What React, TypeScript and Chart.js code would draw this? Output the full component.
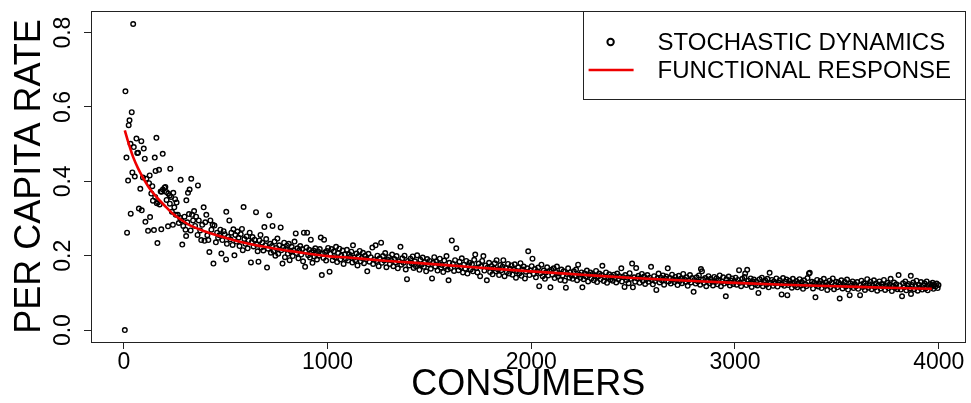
import { useEffect, useRef } from 'react';
import { Chart, registerables } from 'chart.js';

Chart.register(...registerables);

const FONT = '"Liberation Sans", Arial, Helvetica, sans-serif';

const X_TICKS = [0, 1000, 2000, 3000, 4000];
const X_TICK_LABELS = ['0', '1000', '2000', '3000', '4000'];
const Y_TICKS = [0, 0.2, 0.4, 0.6, 0.8];
const Y_TICK_LABELS = ['0.0', '0.2', '0.4', '0.6', '0.8'];

const X_TITLE = 'CONSUMERS';
const Y_TITLE = 'PER CAPITA RATE';
const SERIES_POINTS = 'STOCHASTIC DYNAMICS';
const SERIES_CURVE = 'FUNCTIONAL RESPONSE';

// functional response curve
const CURVE_CONSUMERS = [5, 25, 46, 70, 94, 125, 160, 200, 241, 280, 323, 400, 486, 560, 649, 730, 812, 900, 1000, 1100, 1250, 1400, 1600, 1790, 2000, 2250, 2500, 2800, 3000, 3240, 3500, 3750, 3966];
const CURVE_RATE = [0.537, 0.5, 0.465, 0.435, 0.41, 0.382, 0.358, 0.335, 0.313, 0.297, 0.282, 0.265, 0.25, 0.239, 0.228, 0.22, 0.213, 0.206, 0.199, 0.195, 0.188, 0.182, 0.174, 0.166, 0.158, 0.149, 0.14, 0.132, 0.127, 0.122, 0.118, 0.114, 0.111];

// stochastic dynamics, [consumers, per capita rate]
const STOCH_EARLY: [number, number][] = [
  [5, 0.0], [8, 0.642], [13, 0.464], [16, 0.262], [21, 0.402], [24, 0.551], [28, 0.564], [33, 0.501], [34, 0.313], [39, 0.586],
  [42, 0.424], [46, 0.823], [49, 0.492], [54, 0.413], [62, 0.515], [66, 0.476], [70, 0.477], [74, 0.327], [81, 0.38], [86, 0.508],
  [88, 0.322], [94, 0.41], [98, 0.488], [103, 0.461], [106, 0.291], [111, 0.407], [119, 0.267], [124, 0.395], [127, 0.416], [129, 0.304],
  [135, 0.367], [140, 0.387], [143, 0.348], [148, 0.269], [152, 0.464], [154, 0.358], [156, 0.428], [160, 0.517], [162, 0.341], [165, 0.234],
  [168, 0.344], [173, 0.431], [176, 0.338], [181, 0.373], [184, 0.271], [186, 0.372], [191, 0.474], [192, 0.378], [200, 0.383], [204, 0.385],
  [209, 0.371], [210, 0.35], [217, 0.279], [218, 0.367], [225, 0.362], [226, 0.34], [228, 0.434], [232, 0.358], [236, 0.318], [241, 0.283],
  [243, 0.369], [248, 0.33], [252, 0.352], [255, 0.31], [259, 0.343], [265, 0.31], [270, 0.288], [276, 0.302], [279, 0.404], [283, 0.295],
  [287, 0.23], [292, 0.28], [298, 0.305], [303, 0.27], [306, 0.253], [307, 0.349], [312, 0.29], [315, 0.369], [320, 0.312], [323, 0.378],
  [328, 0.268], [331, 0.407], [335, 0.31], [340, 0.295], [345, 0.32], [350, 0.28], [355, 0.305], [362, 0.256], [364, 0.389], [368, 0.295],
  [375, 0.268], [380, 0.242], [385, 0.283], [392, 0.33], [396, 0.24], [400, 0.29], [405, 0.31], [410, 0.255], [415, 0.242], [420, 0.21],
  [425, 0.295], [430, 0.27], [436, 0.283], [440, 0.179],
];

const STOCH_MID: [number, number][] = [
  [445, 0.281], [452, 0.236], [458, 0.262], [463, 0.248], [469, 0.255], [474, 0.27], [479, 0.206], [484, 0.242], [490, 0.266], [495, 0.258],
  [502, 0.19], [503, 0.318], [506, 0.232], [512, 0.251], [518, 0.295], [523, 0.244], [528, 0.262], [534, 0.229], [538, 0.271], [543, 0.201],
  [548, 0.256], [553, 0.238], [558, 0.265], [563, 0.248], [568, 0.226], [574, 0.258], [580, 0.272], [584, 0.215], [588, 0.331], [592, 0.245],
  [597, 0.232], [603, 0.252], [608, 0.22], [612, 0.241], [618, 0.262], [624, 0.182], [628, 0.236], [632, 0.25], [637, 0.225], [642, 0.243],
  [649, 0.317], [653, 0.23], [657, 0.212], [661, 0.184], [666, 0.241], [671, 0.256], [675, 0.222], [680, 0.235], [685, 0.214], [690, 0.277],
  [695, 0.228], [699, 0.245], [703, 0.168], [708, 0.219], [714, 0.309], [718, 0.232], [722, 0.208], [727, 0.226], [730, 0.28], [735, 0.213],
  [740, 0.238], [744, 0.2], [749, 0.221], [754, 0.246], [758, 0.205], [763, 0.228], [770, 0.276], [773, 0.215], [779, 0.179], [782, 0.222],
  [787, 0.235], [791, 0.196], [796, 0.218], [801, 0.227], [805, 0.205], [810, 0.232], [814, 0.188], [820, 0.212], [824, 0.224], [829, 0.199],
  [833, 0.215], [838, 0.238], [844, 0.26], [847, 0.207], [852, 0.22], [857, 0.193], [861, 0.214], [866, 0.226], [871, 0.203], [876, 0.218],
  [880, 0.185], [884, 0.262], [890, 0.17], [893, 0.211], [897, 0.222], [900, 0.262], [905, 0.201], [910, 0.216], [914, 0.195], [918, 0.243],
  [922, 0.209], [926, 0.181], [931, 0.214], [935, 0.198], [940, 0.22], [944, 0.205], [948, 0.19], [953, 0.212], [958, 0.2], [962, 0.218],
  [967, 0.249], [972, 0.148], [976, 0.205], [980, 0.194], [983, 0.243], [988, 0.209], [993, 0.187], [997, 0.213],
];

const STOCH_LATE_A: [number, number][] = [
  [1003, 0.221], [1010, 0.157], [1014, 0.205], [1020, 0.218], [1025, 0.188], [1031, 0.212], [1036, 0.196], [1042, 0.224], [1047, 0.183], [1052, 0.207],
  [1058, 0.219], [1063, 0.19], [1068, 0.2], [1074, 0.214], [1079, 0.178], [1084, 0.203], [1090, 0.192], [1095, 0.216],
  [1101, 0.187], [1106, 0.204], [1112, 0.197], [1117, 0.211], [1122, 0.182], [1125, 0.228], [1131, 0.195], [1136, 0.188], [1142, 0.206], [1147, 0.174],
  [1152, 0.199], [1158, 0.213], [1163, 0.185], [1168, 0.194], [1174, 0.208], [1179, 0.18], [1184, 0.2], [1190, 0.191], [1195, 0.158],
  [1201, 0.205], [1206, 0.184], [1212, 0.196], [1220, 0.222], [1224, 0.178], [1229, 0.19], [1236, 0.228], [1240, 0.186], [1245, 0.2], [1251, 0.172],
  [1256, 0.193], [1263, 0.235], [1267, 0.181], [1272, 0.199], [1278, 0.187], [1283, 0.207], [1289, 0.169], [1294, 0.19],
  [1301, 0.196], [1306, 0.178], [1312, 0.188], [1317, 0.203], [1323, 0.172], [1328, 0.191], [1334, 0.182], [1339, 0.199], [1345, 0.166], [1350, 0.185],
  [1358, 0.224], [1362, 0.176], [1367, 0.193], [1373, 0.181], [1378, 0.2], [1384, 0.163], [1390, 0.137], [1395, 0.186],
  [1401, 0.174], [1407, 0.192], [1412, 0.18], [1418, 0.198], [1423, 0.167], [1429, 0.185], [1434, 0.172], [1440, 0.201], [1445, 0.178], [1451, 0.162],
  [1456, 0.189], [1462, 0.176], [1467, 0.195], [1473, 0.17], [1478, 0.183], [1484, 0.158], [1489, 0.191], [1495, 0.177],
  [1501, 0.186], [1507, 0.165], [1513, 0.139], [1518, 0.181], [1524, 0.196], [1529, 0.171], [1535, 0.184], [1540, 0.16], [1546, 0.178], [1551, 0.192],
  [1557, 0.168], [1562, 0.175], [1568, 0.156], [1573, 0.187], [1579, 0.17], [1584, 0.199], [1590, 0.163], [1594, 0.134], [1598, 0.181],
  [1604, 0.166], [1610, 0.241], [1615, 0.178], [1621, 0.159], [1626, 0.188], [1632, 0.22], [1637, 0.172], [1643, 0.161], [1648, 0.184], [1654, 0.169],
  [1659, 0.193], [1665, 0.155], [1670, 0.176], [1676, 0.165], [1681, 0.186], [1687, 0.152], [1692, 0.174], [1697, 0.181],
  [1703, 0.163], [1709, 0.177], [1714, 0.158], [1720, 0.189], [1725, 0.203], [1731, 0.167], [1736, 0.155], [1742, 0.179], [1749, 0.145], [1753, 0.172],
  [1759, 0.186], [1765, 0.199], [1770, 0.16], [1776, 0.174], [1782, 0.134], [1787, 0.169], [1793, 0.181], [1798, 0.156],
  [1804, 0.172], [1810, 0.15], [1815, 0.166], [1821, 0.18], [1826, 0.158], [1830, 0.188], [1837, 0.163], [1842, 0.148], [1848, 0.175], [1853, 0.161],
  [1859, 0.17], [1863, 0.188], [1869, 0.145], [1875, 0.167], [1880, 0.156], [1886, 0.178], [1891, 0.152], [1897, 0.165],
  [1903, 0.174], [1908, 0.149], [1914, 0.162], [1919, 0.177], [1925, 0.141], [1930, 0.158], [1936, 0.169], [1941, 0.152], [1947, 0.18], [1952, 0.146],
  [1958, 0.163], [1963, 0.171], [1969, 0.139], [1974, 0.157], [1980, 0.166], [1985, 0.212], [1991, 0.148], [1996, 0.16],
];

const STOCH_LATE_B: [number, number][] = [
  [2002, 0.172], [2006, 0.192], [2012, 0.151], [2018, 0.164], [2023, 0.142], [2029, 0.158], [2034, 0.168], [2039, 0.118], [2045, 0.153], [2050, 0.176],
  [2056, 0.145], [2061, 0.16], [2067, 0.138], [2072, 0.155], [2078, 0.169], [2083, 0.147], [2089, 0.158], [2094, 0.115], [2099, 0.162],
  [2104, 0.149], [2110, 0.166], [2115, 0.14], [2121, 0.156], [2126, 0.171], [2132, 0.144], [2137, 0.152], [2143, 0.135], [2148, 0.163], [2154, 0.147],
  [2159, 0.158], [2165, 0.133], [2170, 0.114], [2176, 0.151], [2181, 0.166], [2187, 0.141], [2192, 0.155], [2198, 0.147],
  [2203, 0.138], [2209, 0.158], [2214, 0.146], [2220, 0.163], [2225, 0.134], [2230, 0.176], [2236, 0.149], [2241, 0.141], [2247, 0.155], [2251, 0.115],
  [2257, 0.137], [2262, 0.152], [2268, 0.144], [2273, 0.16], [2279, 0.131], [2284, 0.148], [2290, 0.155], [2295, 0.139],
  [2301, 0.151], [2307, 0.134], [2312, 0.146], [2318, 0.159], [2323, 0.129], [2329, 0.144], [2334, 0.152], [2340, 0.137], [2345, 0.148], [2349, 0.173],
  [2356, 0.132], [2361, 0.143], [2367, 0.155], [2372, 0.127], [2378, 0.141], [2383, 0.15], [2389, 0.136], [2394, 0.145],
  [2400, 0.133], [2406, 0.149], [2411, 0.14], [2417, 0.128], [2422, 0.152], [2428, 0.137], [2433, 0.145], [2442, 0.166], [2445, 0.131], [2450, 0.143],
  [2458, 0.116], [2461, 0.148], [2467, 0.135], [2472, 0.141], [2478, 0.126], [2483, 0.153], [2489, 0.138], [2495, 0.179], [2499, 0.115],
  [2505, 0.142], [2510, 0.13], [2515, 0.167], [2521, 0.139], [2526, 0.146], [2532, 0.127], [2537, 0.14], [2543, 0.151], [2548, 0.133], [2554, 0.144],
  [2559, 0.124], [2565, 0.137], [2570, 0.148], [2576, 0.13], [2581, 0.141], [2588, 0.17], [2592, 0.135], [2597, 0.123],
  [2603, 0.145], [2608, 0.132], [2614, 0.108], [2619, 0.139], [2625, 0.152], [2630, 0.128], [2636, 0.141], [2641, 0.134], [2647, 0.147], [2652, 0.122],
  [2658, 0.138], [2663, 0.144], [2670, 0.166], [2674, 0.131], [2680, 0.14], [2685, 0.125], [2691, 0.149], [2696, 0.136],
  [2702, 0.129], [2707, 0.143], [2713, 0.135], [2718, 0.121], [2724, 0.146], [2729, 0.132], [2735, 0.139], [2740, 0.126], [2746, 0.151], [2751, 0.137],
  [2757, 0.13], [2762, 0.142], [2768, 0.119], [2773, 0.134], [2779, 0.148], [2784, 0.128], [2790, 0.14], [2797, 0.103],
  [2801, 0.135], [2807, 0.125], [2812, 0.142], [2818, 0.131], [2823, 0.147], [2829, 0.122], [2833, 0.164], [2838, 0.158], [2843, 0.136], [2848, 0.127],
  [2854, 0.14], [2859, 0.118], [2865, 0.133], [2870, 0.145], [2876, 0.126], [2881, 0.138], [2887, 0.131], [2892, 0.12], [2898, 0.143],
  [2903, 0.129], [2909, 0.139], [2914, 0.123], [2920, 0.134], [2925, 0.147], [2931, 0.118], [2936, 0.131], [2942, 0.142], [2947, 0.125], [2955, 0.091],
  [2958, 0.137], [2964, 0.128], [2969, 0.144], [2975, 0.12], [2980, 0.133], [2986, 0.139], [2991, 0.124], [2997, 0.13],
];

const STOCH_LATE_C: [number, number][] = [
  [3003, 0.141], [3008, 0.122], [3014, 0.135], [3020, 0.161], [3024, 0.127], [3030, 0.118], [3036, 0.138], [3041, 0.129], [3047, 0.143], [3050, 0.152],
  [3056, 0.121], [3060, 0.162], [3066, 0.133], [3071, 0.125], [3077, 0.139], [3082, 0.116], [3088, 0.13], [3093, 0.136], [3099, 0.123],
  [3104, 0.131], [3110, 0.12], [3115, 0.1], [3121, 0.137], [3126, 0.126], [3132, 0.141], [3137, 0.118], [3143, 0.129], [3148, 0.134], [3154, 0.122],
  [3159, 0.138], [3165, 0.115], [3170, 0.154], [3176, 0.127], [3181, 0.135], [3187, 0.119], [3192, 0.131], [3198, 0.125],
  [3203, 0.139], [3209, 0.117], [3214, 0.128], [3220, 0.134], [3229, 0.096], [3231, 0.123], [3236, 0.14], [3242, 0.119], [3247, 0.13], [3253, 0.136],
  [3257, 0.094], [3262, 0.121], [3268, 0.133], [3273, 0.125], [3279, 0.114], [3284, 0.138], [3290, 0.127], [3295, 0.119],
  [3301, 0.132], [3306, 0.115], [3312, 0.126], [3317, 0.137], [3323, 0.12], [3328, 0.129], [3334, 0.111], [3339, 0.134], [3345, 0.124], [3350, 0.118],
  [3356, 0.14], [3363, 0.152], [3367, 0.154], [3372, 0.122], [3378, 0.13], [3383, 0.112], [3389, 0.127], [3395, 0.088], [3398, 0.121],
  [3403, 0.135], [3409, 0.117], [3414, 0.126], [3420, 0.132], [3425, 0.113], [3431, 0.124], [3436, 0.138], [3442, 0.119], [3447, 0.128], [3453, 0.108],
  [3458, 0.122], [3464, 0.133], [3469, 0.116], [3475, 0.127], [3480, 0.139], [3486, 0.11], [3491, 0.121], [3497, 0.13],
  [3502, 0.115], [3508, 0.128], [3514, 0.085], [3517, 0.123], [3522, 0.134], [3528, 0.112], [3533, 0.121], [3539, 0.129], [3544, 0.117], [3550, 0.136],
  [3555, 0.109], [3563, 0.094], [3566, 0.126], [3571, 0.119], [3577, 0.131], [3582, 0.113], [3588, 0.124], [3594, 0.118],
  [3600, 0.129], [3605, 0.111], [3614, 0.094], [3616, 0.122], [3621, 0.133], [3627, 0.116], [3632, 0.126], [3638, 0.108], [3643, 0.12], [3649, 0.137],
  [3654, 0.114], [3660, 0.123], [3665, 0.13], [3671, 0.11], [3676, 0.119], [3682, 0.134], [3687, 0.115], [3693, 0.125], [3698, 0.106],
  [3704, 0.121], [3709, 0.131], [3715, 0.112], [3720, 0.124], [3726, 0.117], [3731, 0.135], [3737, 0.108], [3742, 0.12], [3748, 0.127], [3753, 0.113],
  [3759, 0.122], [3764, 0.138], [3770, 0.105], [3775, 0.119], [3781, 0.128], [3786, 0.114], [3792, 0.123], [3797, 0.11],
  [3803, 0.148], [3808, 0.12], [3814, 0.109], [3820, 0.091], [3825, 0.126], [3830, 0.115], [3836, 0.131], [3841, 0.107], [3847, 0.119], [3852, 0.124],
  [3858, 0.112], [3863, 0.146], [3864, 0.097], [3869, 0.121], [3875, 0.128], [3880, 0.11], [3886, 0.118], [3891, 0.133], [3897, 0.106],
  [3902, 0.122], [3908, 0.114], [3913, 0.129], [3919, 0.109], [3924, 0.12], [3930, 0.126], [3935, 0.112], [3941, 0.131], [3946, 0.107], [3952, 0.118],
  [3957, 0.124], [3962, 0.115], [3966, 0.12], [3970, 0.127], [3974, 0.111], [3978, 0.122], [3984, 0.117], [3990, 0.125], [3995, 0.113], [3999, 0.121],
];

const framePlugin = {
  id: 'rFrame',
  afterDraw(chart: any) {
    const { ctx, chartArea, scales } = chart;
    const { left, top, right, bottom } = chartArea;
    ctx.save();
    // plot box
    ctx.strokeStyle = '#222';
    ctx.lineWidth = 1;
    ctx.strokeRect(Math.round(left) + 0.5, Math.round(top) + 0.5, Math.round(right - left) - 1, Math.round(bottom - top));
    // rotated y tick labels
    ctx.fillStyle = '#000';
    ctx.font = `23px ${FONT}`;
    ctx.textAlign = 'center';
    ctx.textBaseline = 'middle';
    Y_TICKS.forEach((v, i) => {
      const py = scales.y.getPixelForValue(v);
      ctx.save();
      ctx.translate(left - 27, py);
      ctx.rotate(-Math.PI / 2);
      ctx.fillText(Y_TICK_LABELS[i], 0, 0);
      ctx.restore();
    });
    // legend
    const lw = 383;
    const lh = 88;
    const lx = right - lw;
    const ly = top;
    ctx.strokeStyle = '#222';
    ctx.lineWidth = 1;
    ctx.strokeRect(Math.round(lx) + 0.5, Math.round(ly) + 0.5, lw - 1, lh);
    const sx = lx + 28;
    const r1 = ly + 31;
    const r2 = ly + 59;
    ctx.beginPath();
    ctx.arc(sx, r1, 3.2, 0, Math.PI * 2);
    ctx.strokeStyle = '#000';
    ctx.lineWidth = 2;
    ctx.stroke();
    ctx.beginPath();
    ctx.moveTo(sx - 22, r2);
    ctx.lineTo(sx + 23, r2);
    ctx.strokeStyle = '#ee0000';
    ctx.lineWidth = 2.6;
    ctx.stroke();
    ctx.fillStyle = '#000';
    ctx.font = `24px ${FONT}`;
    ctx.textAlign = 'left';
    ctx.textBaseline = 'middle';
    ctx.fillText(SERIES_POINTS, lx + 75, r1 + 1);
    ctx.fillText(SERIES_CURVE, lx + 75, r2 + 1);
    ctx.restore();
  },
};

export default function App() {
  const ref = useRef<HTMLCanvasElement>(null);
  useEffect(() => {
    if (!ref.current) return;
    const points = [...STOCH_EARLY, ...STOCH_MID, ...STOCH_LATE_A, ...STOCH_LATE_B, ...STOCH_LATE_C].map(([x, y]) => ({ x, y }));
    const curve = CURVE_CONSUMERS.map((x, i) => ({ x, y: CURVE_RATE[i] }));
    const chart = new Chart(ref.current, {
      type: 'scatter',
      data: {
        datasets: [
          {
            type: 'scatter',
            label: SERIES_POINTS,
            data: points,
            pointStyle: 'circle',
            pointRadius: 2.3,
            borderWidth: 1.4,
            borderColor: '#000',
            backgroundColor: 'rgba(0,0,0,0)',
            order: 2,
          } as any,
          {
            type: 'line',
            label: SERIES_CURVE,
            data: curve,
            borderColor: '#ee0000',
            borderWidth: 2.6,
            pointRadius: 0,
            fill: false,
            cubicInterpolationMode: 'monotone',
            order: 1,
          } as any,
        ],
      },
      options: {
        responsive: false,
        animation: false,
        events: [],
        layout: { padding: { top: 11, right: 2, left: 0, bottom: 0 } },
        plugins: { legend: { display: false }, tooltip: { enabled: false } },
        scales: {
          x: {
            type: 'linear',
            min: -161,
            max: 4132,
            afterBuildTicks: (s: any) => {
              s.ticks = X_TICKS.map((v) => ({ value: v }));
            },
            afterFit: (s: any) => {
              s.height = 61;
            },
            grid: { display: true, drawOnChartArea: false, drawTicks: true, tickLength: 7, color: '#222' },
            border: { display: false },
            ticks: {
              color: '#000',
              font: { family: FONT, size: 23 },
              padding: 0,
              maxRotation: 0,
              minRotation: 0,
              autoSkip: false,
              callback: (_v: any, i: number) => X_TICK_LABELS[i],
            },
            title: {
              display: true,
              text: X_TITLE,
              color: '#000',
              font: { family: FONT, size: 36 },
              padding: { top: 0, bottom: -4 },
            },
          },
          y: {
            type: 'linear',
            min: -0.032,
            max: 0.858,
            afterBuildTicks: (s: any) => {
              s.ticks = Y_TICKS.map((v) => ({ value: v }));
            },
            afterFit: (s: any) => {
              s.width = 91;
            },
            grid: { display: true, drawOnChartArea: false, drawTicks: true, tickLength: 7, color: '#222' },
            border: { display: false },
            ticks: { display: false },
            title: {
              display: true,
              text: Y_TITLE,
              color: '#000',
              font: { family: FONT, size: 36 },
              padding: { top: 8, bottom: 0 },
            },
          },
        },
      },
      plugins: [framePlugin],
    });
    return () => chart.destroy();
  }, []);
  return (
    <div style={{ position: 'absolute', left: 0, top: 0, width: 971, height: 403, background: '#fff' }}>
      <canvas ref={ref} width={971} height={403} style={{ width: 971, height: 403, display: 'block' }} />
    </div>
  );
}
